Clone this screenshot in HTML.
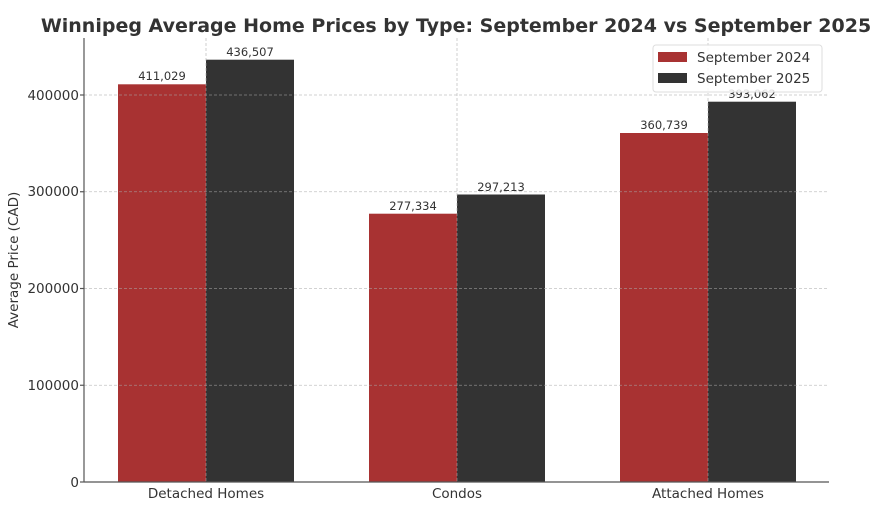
<!DOCTYPE html>
<html><head><meta charset="utf-8"><style>
html,body{margin:0;padding:0;background:#fff;}
svg{display:block;font-family:"DejaVu Sans","Liberation Sans",sans-serif;}
</style></head><body>
<svg width="884" height="506" viewBox="0 0 884 506">
<text x="456" y="32" text-anchor="middle" font-size="19" font-weight="bold" fill="#333">Winnipeg Average Home Prices by Type: September 2024 vs September 2025</text>
<g>
<rect x="118" y="84.3" width="88" height="397.7" fill="#a83232"/>
<rect x="206" y="59.7" width="88" height="422.3" fill="#333"/>
<rect x="369" y="213.7" width="88" height="268.3" fill="#a83232"/>
<rect x="457" y="194.5" width="88" height="287.5" fill="#333"/>
<rect x="620" y="133" width="88" height="349" fill="#a83232"/>
<rect x="708" y="101.7" width="88" height="380.3" fill="#333"/>
</g>
<g stroke="#aaa" stroke-width="0.8" stroke-dasharray="3,2" opacity="0.7">
<line x1="84" x2="829" y1="385.25" y2="385.25"/>
<line x1="84" x2="829" y1="288.5" y2="288.5"/>
<line x1="84" x2="829" y1="191.75" y2="191.75"/>
<line x1="84" x2="829" y1="95" y2="95"/>
<line x1="206" x2="206" y1="38" y2="482"/>
<line x1="457" x2="457" y1="38" y2="482"/>
<line x1="708" x2="708" y1="38" y2="482"/>
</g>
<g stroke="#555" stroke-width="1.2">
<line x1="84" y1="38" x2="84" y2="482"/>
<line x1="84" y1="482" x2="829" y2="482"/>
<line x1="80" y1="482" x2="84" y2="482"/><line x1="80" y1="385.25" x2="84" y2="385.25"/><line x1="80" y1="288.5" x2="84" y2="288.5"/><line x1="80" y1="191.75" x2="84" y2="191.75"/><line x1="80" y1="95" x2="84" y2="95"/>
</g>
<g font-size="13.5" fill="#333" text-anchor="end">
<text x="79" y="487">0</text>
<text x="79" y="390">100000</text>
<text x="79" y="293">200000</text>
<text x="79" y="196">300000</text>
<text x="79" y="100">400000</text>
</g>
<text transform="translate(18,260) rotate(-90)" text-anchor="middle" font-size="13.5" fill="#333">Average Price (CAD)</text>
<g font-size="13.5" fill="#333" text-anchor="middle">
<text x="206" y="498">Detached Homes</text>
<text x="457" y="498">Condos</text>
<text x="708" y="498">Attached Homes</text>
</g>
<g font-size="11.5" fill="#333" text-anchor="middle">
<text x="162" y="80">411,029</text>
<text x="250" y="56">436,507</text>
<text x="413" y="210">277,334</text>
<text x="501" y="191">297,213</text>
<text x="664" y="129">360,739</text>
<text x="752" y="98">393,062</text>
</g>
<rect x="653" y="45" width="169" height="47" rx="3" fill="#fff" fill-opacity="0.85" stroke="#ddd"/>
<rect x="658" y="52" width="29" height="10" fill="#a83232"/>
<rect x="658" y="73" width="29" height="10" fill="#333"/>
<g font-size="13.5" fill="#333">
<text x="697" y="62">September 2024</text>
<text x="697" y="83">September 2025</text>
</g>
</svg>
</body></html>
